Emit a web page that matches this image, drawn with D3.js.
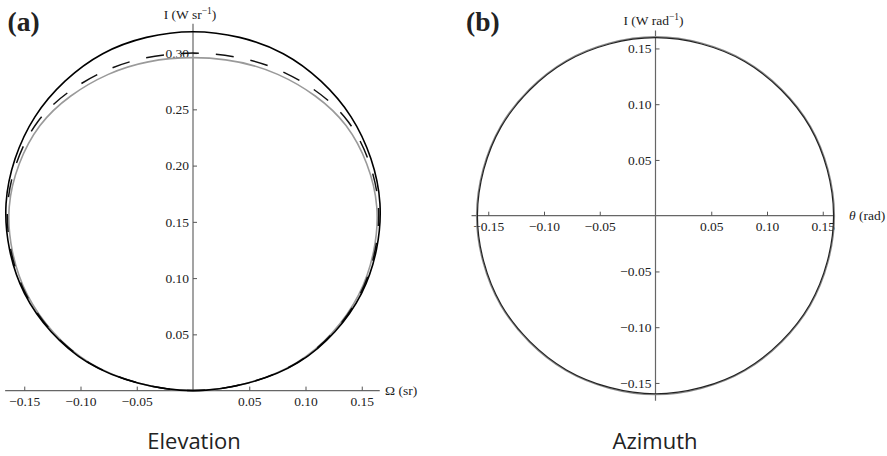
<!DOCTYPE html>
<html>
<head>
<meta charset="utf-8">
<script src="https://cdn.jsdelivr.net/npm/d3@7"></script>
<style>
  html, body { margin: 0; padding: 0; background: #fff; }
  svg { display: block; }
  .serif { font-family: "Liberation Serif", "Times New Roman", Times, serif; fill: #222; }
  .caption { font-family: "Open Sans", "Noto Sans", sans-serif; font-size: 22px; fill: #222; }
</style>
</head>
<body>
<svg id="chart" width="887" height="456"></svg>
<script>
// Elevation radiation pattern, sampled in polar form:
// angle from the vertical axis (degrees) and intensity radius.
const elevAngles = [0, 15, 30, 45, 60, 75, 90, -75, -60, -45, -30, -15];
const elevOuter  = [0.319, 0.310, 0.281, 0.235, 0.173, 0.097, 0, 0.097, 0.173, 0.235, 0.281, 0.310];
const elevDashed = [0.300, 0.295, 0.276, 0.233, 0.1715, 0.0955, 0, 0.0955, 0.1715, 0.233, 0.276, 0.295];
const elevInner  = [0.296, 0.291, 0.272, 0.231, 0.170, 0.095, 0, 0.095, 0.170, 0.231, 0.272, 0.291];

// Azimuth radiation pattern (centred on the origin).
const aziAngles = [0, 30, 60, 90, 120, 150, 180, 210, 240, 270, 300, 330];
const aziBlack  = [0.1597, 0.1597, 0.1597, 0.1597, 0.1597, 0.1597, 0.1597, 0.1597, 0.1597, 0.1597, 0.1597, 0.1597];
const aziGray   = [0.1605, 0.1605, 0.1605, 0.1605, 0.1605, 0.1605, 0.1605, 0.1605, 0.1605, 0.1605, 0.1605, 0.1605];

// Tick labels
const elevXTicks = [-0.15, -0.10, -0.05, 0.05, 0.10, 0.15];
const elevYTicks = [0.05, 0.10, 0.15, 0.20, 0.25, 0.30];
const aziXTicks  = [-0.15, -0.10, -0.05, 0.05, 0.10, 0.15];
const aziYTicks  = [-0.15, -0.10, -0.05, 0.05, 0.10, 0.15];

const SERIF = '"Liberation Serif", "Times New Roman", Times, serif';
const svg = d3.select("#chart");
const fmt = d3.format(".2f");
const rad = Math.PI / 180;

function pts(angles, radii) {
  return angles.map((a, i) => ({ a: a, r: radii[i] }));
}

function drawPanel(p) {
  const k = p.pxPerUnit;
  const x = d3.scaleLinear().domain([0, 1]).range([p.ox, p.ox + k]);
  const y = d3.scaleLinear().domain([0, 1]).range([p.oy, p.oy - k]);
  const g = svg.append("g");

  const notMajor = v => Math.abs(v * 20 - Math.round(v * 20)) > 1e-6;
  const minorX = d3.range(p.minorX[0], p.minorX[1] + 1).map(i => i / 100).filter(notMajor);
  const minorY = d3.range(p.minorY[0], p.minorY[1] + 1).map(i => i / 100).filter(notMajor);

  // axis lines
  g.append("line")
    .attr("x1", x(p.xExt[0])).attr("x2", x(p.xExt[1]))
    .attr("y1", y(0)).attr("y2", y(0))
    .attr("stroke", "#666").attr("stroke-width", 1.2);
  g.append("line")
    .attr("x1", x(0)).attr("x2", x(0))
    .attr("y1", y(p.yExt[0])).attr("y2", y(p.yExt[1]))
    .attr("stroke", "#666").attr("stroke-width", 1.2);

  // x axis: ticks point up, labels below
  const gx = g.append("g").attr("transform", `translate(0,${y(0)})`);
  gx.call(d3.axisBottom(x).tickValues(minorX).tickSizeInner(-2.5).tickSizeOuter(0).tickFormat(""));
  gx.call(d3.axisBottom(x).tickValues(p.xTicks).tickSizeInner(-4).tickSizeOuter(0).tickPadding(5.4).tickFormat(fmt));

  // y axis: ticks point right, labels on the left
  const gy = g.append("g").attr("transform", `translate(${x(0)},0)`);
  gy.call(d3.axisLeft(y).tickValues(minorY).tickSizeInner(-2.5).tickSizeOuter(0).tickFormat(""));
  gy.call(d3.axisLeft(y).tickValues(p.yTicks).tickSizeInner(-4).tickSizeOuter(0).tickPadding(4).tickFormat(fmt));

  [gx, gy].forEach(a => {
    a.attr("font-family", SERIF).attr("font-size", 13.5);
    a.selectAll(".domain").remove();
    a.selectAll(".tick line").attr("stroke", "#555");
    a.selectAll(".tick text").attr("fill", "#222");
  });

  // curves
  const line = d3.line()
    .x(d => x(d.r * Math.sin(d.a * rad)))
    .y(d => y(d.r * Math.cos(d.a * rad)))
    .curve(d3.curveCatmullRomClosed.alpha(0.5));

  p.curves.forEach(c => {
    g.append("path")
      .attr("d", line(c.data))
      .attr("fill", "none")
      .attr("stroke", c.color)
      .attr("stroke-width", c.width)
      .attr("stroke-dasharray", c.dash || null)
      .attr("stroke-dashoffset", c.dashOffset || null);
  });

  return { x, y, g };
}

// Panel (a): elevation
const A = drawPanel({
  ox: 193, oy: 390.6, pxPerUnit: 1125,
  xExt: [-0.167, 0.166], yExt: [0, 0.326],
  minorX: [-16, 16], minorY: [1, 32],
  xTicks: elevXTicks, yTicks: elevYTicks,
  curves: [
    { data: pts(elevAngles, elevInner),  color: "#9a9a9a", width: 1.6 },
    { data: pts(elevAngles, elevDashed), color: "#111", width: 1.5, dash: "18,17", dashOffset: 30 },
    { data: pts(elevAngles, elevOuter),  color: "#000", width: 1.6 }
  ]
});

// Panel (b): azimuth
const B = drawPanel({
  ox: 655.5, oy: 215.7, pxPerUnit: 1115,
  xExt: [-0.165, 0.160], yExt: [-0.166, 0.166],
  minorX: [-16, 16], minorY: [-16, 16],
  xTicks: aziXTicks, yTicks: aziYTicks,
  curves: [
    { data: pts(aziAngles, aziGray),  color: "#8a8a8a", width: 1.3 },
    { data: pts(aziAngles, aziBlack), color: "#222", width: 1.2 }
  ]
});

// axis titles
function yTitle(cx, baseline, unit) {
  const t = svg.append("text").attr("class", "serif")
    .attr("x", cx).attr("y", baseline)
    .attr("text-anchor", "middle").attr("font-size", 13.5);
  t.append("tspan").text("I (W " + unit);
  t.append("tspan").attr("dy", -5).attr("font-size", 9.5).text("\u22121");
  t.append("tspan").attr("dy", 5).text(")");
}
yTitle(A.x(0) - 3, 19, "sr");
yTitle(B.x(0) - 2, 25, "rad");

svg.append("text").attr("class", "serif")
  .attr("x", 385).attr("y", A.y(0) + 4.5).attr("font-size", 13.5)
  .text("\u03A9 (sr)");

const th = svg.append("text").attr("class", "serif")
  .attr("x", 849).attr("y", B.y(0) + 4.5).attr("font-size", 13.5);
th.append("tspan").attr("font-style", "italic").text("\u03B8");
th.append("tspan").text(" (rad)");

// panel letters
svg.append("text").attr("class", "serif")
  .attr("x", 7.5).attr("y", 31).attr("font-size", 27.5).attr("font-weight", "bold")
  .text("(a)");
svg.append("text").attr("class", "serif")
  .attr("x", 466).attr("y", 31).attr("font-size", 27.5).attr("font-weight", "bold")
  .text("(b)");

// captions
svg.append("text").attr("class", "caption")
  .attr("x", 194).attr("y", 449).attr("text-anchor", "middle").text("Elevation");
svg.append("text").attr("class", "caption")
  .attr("x", 655).attr("y", 449).attr("text-anchor", "middle").text("Azimuth");
</script>
</body>
</html>
